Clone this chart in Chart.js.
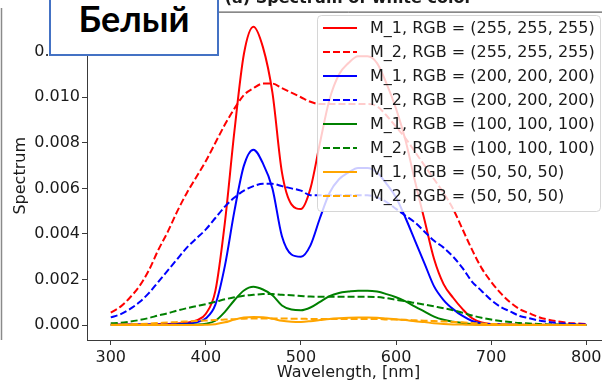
<!DOCTYPE html>
<html><head><meta charset="utf-8">
<script src="https://cdn.jsdelivr.net/npm/chart.js@4.4.0/dist/chart.umd.min.js"></script>
<style>
html,body{margin:0;padding:0;width:602px;height:385px;overflow:hidden;background:#fff;}
#wrap{position:relative;width:602px;height:385px;overflow:hidden;}
#c{position:absolute;left:0;top:0;}
#badge{position:absolute;left:49px;top:-10px;width:166px;height:62px;border:2px solid #4472C4;background:#fff;}
#badgeText{position:absolute;left:49px;top:0px;width:170px;text-align:center;font-family:Lato,'Liberation Sans',sans-serif;font-weight:bold;font-size:36px;line-height:36px;color:#000;}
</style></head>
<body><div id="wrap">
<canvas id="c" width="620" height="385" style="width:620px;height:385px"></canvas>
<div id="badge"></div><div id="badgeText">Белый</div>
</div>
<script>
const wavelengths = [300,310,320,330,340,350,360,370,380,390,400,410,420,430,440,450,460,470,480,490,500,510,520,530,540,550,560,570,580,590,600,610,620,630,640,650,660,670,680,690,700,710,720,730,740,750,760,770,780,790,800];
const xTicks = [300,400,500,600,700,800];
const yTicks = [0,0.002,0.004,0.006,0.008,0.010,0.012];
const seriesLabels = ["M_1, RGB = (255, 255, 255)","M_2, RGB = (255, 255, 255)","M_1, RGB = (200, 200, 200)","M_2, RGB = (200, 200, 200)","M_1, RGB = (100, 100, 100)","M_2, RGB = (100, 100, 100)","M_1, RGB = (50, 50, 50)","M_2, RGB = (50, 50, 50)"];

const m1_255 = [0.00002,0.00002,0.00002,0.00003,0.00003,0.00004,0.00005,0.00007,0.0001,0.0002,0.0005,0.0015,0.0045,0.0085,0.0119,0.0131,0.0122,0.0102,0.0067,0.0053,0.0051,0.0060,0.0080,0.0099,0.0110,0.0115,0.0118,0.0118,0.0115,0.0106,0.0095,0.0081,0.0063,0.0046,0.0029,0.0018,0.0012,0.0007,0.0003,0.00012,0.00005,0.00003,0.00002,0.00001,0.00001,0.00001,0.00001,0.00001,0.00001,0.00001,0.00001];
const m2_255 = [0.00055,0.0008,0.0012,0.0017,0.0024,0.0033,0.0041,0.0050,0.0058,0.0065,0.0072,0.0080,0.0088,0.0095,0.0101,0.0104,0.0106,0.0106,0.0104,0.0102,0.0100,0.0098,0.0097,0.0097,0.0097,0.0097,0.0097,0.0097,0.0096,0.0092,0.0087,0.0082,0.0076,0.0070,0.0064,0.0058,0.0051,0.0042,0.0033,0.0025,0.0019,0.0014,0.0010,0.0007,0.00052,0.00035,0.00024,0.00016,0.0001,0.00007,0.00004];
const m1_200 = [0.00001,0.00001,0.00001,0.00002,0.00002,0.00002,0.00003,0.00004,0.00006,0.00012,0.0003,0.0009,0.0026,0.0050,0.0070,0.0077,0.0071,0.0060,0.0039,0.0031,0.0030,0.0035,0.0047,0.0058,0.0064,0.0067,0.0069,0.0069,0.0067,0.0062,0.0056,0.0047,0.0037,0.0027,0.0017,0.0011,0.0007,0.0004,0.00018,0.00007,0.00003,0.00002,0.00001,0.00001,0.000005,0.000005,0.000005,0.000005,0.000005,0.000005,0.000005];
const m2_200 = [0.00034,0.00047,0.0007,0.0010,0.0014,0.0019,0.0024,0.0029,0.0034,0.0038,0.0042,0.0047,0.0052,0.0056,0.0059,0.0061,0.0062,0.0062,0.0061,0.0060,0.0059,0.0057,0.0057,0.0057,0.0057,0.0057,0.0057,0.0057,0.0056,0.0054,0.0051,0.0048,0.0045,0.0041,0.0037,0.0034,0.0030,0.0025,0.0019,0.0015,0.0011,0.0008,0.0006,0.0004,0.0003,0.0002,0.00014,0.00009,0.00006,0.00004,0.00002];
const m1_100 = [0.000003,0.000003,0.000003,0.000004,0.000004,0.000005,0.000006,0.000009,0.000013,0.000026,0.00006,0.00019,0.00058,0.00109,0.00152,0.00168,0.00156,0.00131,0.00086,0.00068,0.00065,0.00077,0.00102,0.00127,0.00141,0.00147,0.00151,0.00151,0.00147,0.00136,0.00122,0.00104,0.00081,0.00059,0.00037,0.00023,0.00015,0.00009,0.00004,0.000015,0.000006,0.000004,0.000003,0.000002,0.000001,0.000001,0.000001,0.000001,0.000001,0.000001,0.000001];
const m2_100 = [0.00008,0.00010,0.00015,0.00022,0.00031,0.00042,0.00052,0.00064,0.00074,0.00083,0.00092,0.00102,0.00113,0.00122,0.00129,0.00133,0.00136,0.00136,0.00133,0.00131,0.00128,0.00125,0.00124,0.00124,0.00124,0.00124,0.00124,0.00124,0.00123,0.00118,0.00111,0.00105,0.00097,0.00090,0.00082,0.00074,0.00065,0.00054,0.00042,0.00032,0.00024,0.00018,0.00013,0.00009,0.00007,0.000045,0.00003,0.00002,0.000013,0.000009,0.000005];
const m1_50 = [0.000001,0.000001,0.000001,0.000001,0.000001,0.000001,0.000001,0.000002,0.000003,0.000006,0.000014,0.00004,0.00012,0.00024,0.00033,0.00036,0.00034,0.00028,0.00019,0.00015,0.00014,0.00017,0.00022,0.00027,0.00030,0.00032,0.00033,0.00033,0.00032,0.00029,0.00026,0.00022,0.00017,0.00013,0.00008,0.00005,0.00003,0.00002,0.00001,0.000003,0.000001,0,0,0,0,0,0,0,0,0,0];
const m2_50 = [0.000015,0.000022,0.000033,0.000047,0.000066,0.00009,0.00011,0.00014,0.00016,0.00018,0.00020,0.00022,0.00024,0.00026,0.00028,0.00029,0.00029,0.00029,0.00029,0.00028,0.00028,0.00027,0.00027,0.00027,0.00027,0.00027,0.00027,0.00027,0.00027,0.00025,0.00024,0.00023,0.00021,0.00019,0.00018,0.00016,0.00014,0.00012,0.00009,0.00007,0.00005,0.00004,0.00003,0.00002,0.000015,0.00001,0.000007,0.000004,0.000003,0.000002,0.000001];

const seriesValues = [m1_255,m2_255,m1_200,m2_200,m1_100,m2_100,m1_50,m2_50];
const seriesColors = ['#ff0000','#ff0000','#0000ff','#0000ff','#008000','#008000','#ffa500','#ffa500'];
const seriesDashed = [false,true,false,true,false,true,false,true];
const DASH = [7,3];
const FONT = "'DejaVu Sans', sans-serif";
const TXT = '#1a1a1a';
const SPINE = '#3a3a3a';

const datasets = seriesValues.map((vals,i)=>({
  label: seriesLabels[i],
  data: wavelengths.map((w,j)=>({x:w,y:vals[j]})),
  borderColor: seriesColors[i],
  backgroundColor: seriesColors[i],
  borderWidth: 2,
  borderDash: seriesDashed[i]?DASH:[],
  pointRadius: 0,
  fill: false,
  cubicInterpolationMode: 'monotone',
  order: seriesValues.length - 1 - i
}));

const decor = {
  id:'decor',
  afterDraw(chart){
    const c = chart.ctx, a = chart.chartArea;
    c.save();
    c.strokeStyle = SPINE; c.lineWidth = 1;
    c.beginPath();
    c.moveTo(a.left, a.top+0.5); c.lineTo(a.right, a.top+0.5);
    c.moveTo(a.right-0.5, a.top); c.lineTo(a.right-0.5, a.bottom);
    c.stroke();
    c.strokeStyle = '#8a8a8a'; c.lineWidth = 1.5;
    c.beginPath(); c.moveTo(1.5, 8); c.lineTo(1.5, 340); c.stroke();
    c.fillStyle = TXT;
    c.font = "bold 16px " + FONT;
    c.textAlign = 'center'; c.textBaseline = 'alphabetic';
    c.fillText('(a) Spectrum of white color', (a.left+a.right)/2, 3);
    c.font = "16px " + FONT;
    c.textBaseline = 'middle';
    c.fillText('Wavelength, [nm]', (a.left+a.right)/2, 373);
    c.save();
    c.translate(21, (a.top+a.bottom)/2);
    c.rotate(-Math.PI/2);
    c.fillText('Spectrum', 0, 0);
    c.restore();
    const lx = 317.5, ly = 15.5, lw = 283, lh = 196, r = 4;
    c.beginPath();
    c.moveTo(lx+r, ly); c.lineTo(lx+lw-r, ly); c.quadraticCurveTo(lx+lw, ly, lx+lw, ly+r);
    c.lineTo(lx+lw, ly+lh-r); c.quadraticCurveTo(lx+lw, ly+lh, lx+lw-r, ly+lh);
    c.lineTo(lx+r, ly+lh); c.quadraticCurveTo(lx, ly+lh, lx, ly+lh-r);
    c.lineTo(lx, ly+r); c.quadraticCurveTo(lx, ly, lx+r, ly);
    c.closePath();
    c.fillStyle = 'rgba(255,255,255,0.8)'; c.fill();
    c.strokeStyle = 'rgba(204,204,204,0.8)'; c.lineWidth = 1; c.stroke();
    chart.data.datasets.forEach((ds,i)=>{
      const y = 28 + i*24;
      c.strokeStyle = ds.borderColor; c.lineWidth = 2;
      c.setLineDash(ds.borderDash||[]);
      c.beginPath(); c.moveTo(323, y); c.lineTo(357, y); c.stroke();
      c.setLineDash([]);
      c.fillStyle = TXT; c.font = "16px " + FONT;
      c.textAlign = 'left'; c.textBaseline = 'middle';
      c.fillText(ds.label, 370, y+1);
    });
    c.restore();
  }
};

new Chart(document.getElementById('c').getContext('2d'), {
  type:'line',
  data:{datasets},
  options:{
    responsive:false, animation:false, devicePixelRatio:1,
    layout:{padding:{left:0,right:10,top:7,bottom:0}},
    plugins:{legend:{display:false},tooltip:{enabled:false},title:{display:false}},
    scales:{
      x:{type:'linear',min:275,max:825,
        afterBuildTicks:s=>{s.ticks = xTicks.map(v=>({value:v}));},
        afterFit:s=>{s.height=45;},
        grid:{drawOnChartArea:false,drawTicks:true,tickLength:5,color:SPINE,lineWidth:1},
        border:{display:true,color:SPINE,width:1},
        ticks:{font:{family:FONT,size:16},color:TXT,padding:3,maxRotation:0,autoSkip:false,callback:v=>String(v)}
      },
      y:{type:'linear',min:-0.000655,max:0.01376,
        afterBuildTicks:s=>{s.ticks = yTicks.map(v=>({value:v}));},
        afterFit:s=>{s.width=87;},
        grid:{drawOnChartArea:false,drawTicks:true,tickLength:5,color:SPINE,lineWidth:1},
        border:{display:true,color:SPINE,width:1},
        ticks:{font:{family:FONT,size:16},color:TXT,padding:2,autoSkip:false,callback:v=>v.toFixed(3)}
      }
    }
  },
  plugins:[decor]
});
</script>
</body></html>
